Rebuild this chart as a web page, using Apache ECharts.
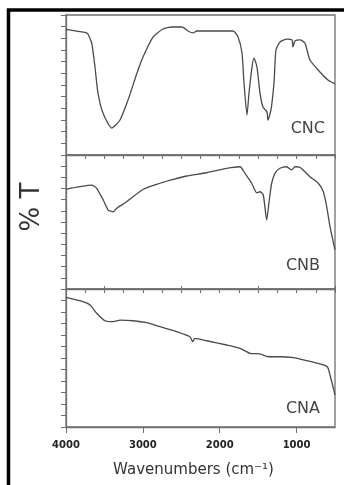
<!DOCTYPE html>
<html><head><meta charset="utf-8">
<script src="https://cdn.jsdelivr.net/npm/echarts@6/dist/echarts.min.js"></script>
<style>html,body{margin:0;padding:0;background:#fff}#c{width:344px;height:485px}</style>
</head><body><div id="c"></div>
<script>
// ---- data ----
const wnCNC = [4000,3818,3723,3666,3623,3584,3519,3405,3297,3193,3076,2998,2868,2738,2621,2491,2413,2348,2296,1827,1762,1710,1684,1645,1619,1580,1554,1515,1476,1437,1385,1372,1333,1294,1268,1216,1125,1060,1047,1021,956,891,826,696,592,500];
const tCNC  = [107.7,105.7,104.3,96,75.4,53.1,36,23.1,30,47.1,70.3,84,101.1,108,109.7,109.7,106.3,104.6,106.3,106.3,101.1,87.4,61.7,34.3,53.1,75.4,83.1,75.4,53.1,41.1,36.9,30,38.6,61.7,90,96.9,99.4,98.6,92.6,97.7,98.6,96,81.4,71.1,64.3,61];
const wnCNB = [4000,3818,3666,3601,3515,3450,3385,3340,3210,2994,2777,2604,2430,2170,1909,1736,1671,1584,1519,1476,1433,1389,1355,1324,1281,1216,1129,1064,1021,956,826,717,652,608,565,500];
const tCNB  = [89.3,91.6,93.1,90.2,79.7,70.7,69.2,72.3,78.2,89.3,94.7,98.2,101.2,104.1,108.1,109.5,103.6,94.7,86.2,87.1,84.2,61.8,79.7,94.7,103.6,108.1,109.5,106.6,109.5,109,100.6,94.7,87.1,73.7,55.8,35];
const wnCNA = [4000,3818,3688,3601,3493,3385,3297,3124,2950,2777,2560,2387,2352,2322,2170,1909,1736,1606,1476,1368,1216,1043,868,696,600,565,500];
const tCNA  = [112.8,109.8,106.1,98.9,92.4,91.6,93,92.4,90.7,87.2,82.9,78.5,74.2,77.1,75,71.3,68.4,64.1,63.5,61.1,61.1,60.3,57.7,54.8,52.4,45.2,28];
const panelNames = ['CNC','CNB','CNA'];
const majorTicks = [1000,2000,3000,4000];
const minorTicks = [500,1500,2500,3500];
const xTitle = 'Wavenumbers (cm\u207B\u00B9)';
const yTitle = '% T';

// ---- chart ----
const chart = echarts.init(document.getElementById('c'), null, {renderer:'canvas'});
const L = 66, R = 9;
const grids = [{top:15,height:140},{top:155,height:134},{top:289,height:138}];
const axisColor = '#707070';
const lineColor = '#4a4a4a';
const xs = [wnCNC, wnCNB, wnCNA], ys = [tCNC, tCNB, tCNA];

const gridOpts = grids.map(g => ({left:L, right:R, top:g.top, height:g.height, show:true, borderColor:axisColor, borderWidth:1.3, backgroundColor:'transparent'}));

const xAxes = [];
for (let i = 0; i < 2; i++) {
  xAxes.push({type:'value', gridIndex:i, min:500, max:4000, inverse:true, interval:250,
    axisLine:{show:true, lineStyle:{color:axisColor, width:1.3}},
    axisTick:{show:true, inside:false, length:4, lineStyle:{color:axisColor}},
    axisLabel:{show:false}, splitLine:{show:false}});
}
xAxes.push({type:'value', gridIndex:2, min:500, max:4000, inverse:true,
  axisLine:{show:true, lineStyle:{color:axisColor, width:1.3}},
  axisTick:{show:true, inside:false, length:6, customValues:majorTicks, lineStyle:{color:axisColor}},
  axisLabel:{show:true, customValues:majorTicks, formatter:v=>String(v), margin:13, color:'#222', fontFamily:'DejaVu Sans', fontWeight:'bold', fontSize:10, showMinLabel:true, showMaxLabel:true},
  splitLine:{show:false},
  name:xTitle, nameLocation:'middle', nameGap:36,
  nameTextStyle:{fontFamily:'DejaVu Sans', fontSize:15, color:'#333', padding:[0,14,0,0]}});
xAxes.push({type:'value', gridIndex:2, min:500, max:4000, inverse:true,
  axisLine:{show:false},
  axisTick:{show:true, inside:false, length:3, customValues:minorTicks, lineStyle:{color:axisColor}},
  axisLabel:{show:false}, splitLine:{show:false}});

const yAxes = grids.map((g,i) => ({type:'value', gridIndex:i, min:0, max:120, interval:10,
  axisLine:{show:true, lineStyle:{color:axisColor, width:1.3}},
  axisTick:{show:true, inside:false, length:5, lineStyle:{color:axisColor}},
  axisLabel:{show:false}, splitLine:{show:false}}));

const series = xs.map((x,i) => ({type:'line', xAxisIndex:i, yAxisIndex:i, showSymbol:false, symbol:'none', smooth:0.2,
  data:x.map((v,k)=>[v, ys[i][k]]), lineStyle:{color:lineColor, width:1.3}, silent:true}));

const labelPos = [{x:325,y:129},{x:320,y:266},{x:320,y:409}];
const graphic = [
  {type:'rect', shape:{x:8.5, y:10, width:400, height:520}, style:{fill:'none', stroke:'#000', lineWidth:3.5}, silent:true},
  {type:'text', x:32, y:207, rotation:Math.PI/2, style:{text:yTitle, font:'26px "DejaVu Sans"', fill:'#333', align:'center', verticalAlign:'middle'}}
].concat(panelNames.map((n,i)=>({type:'text', x:labelPos[i].x, y:labelPos[i].y,
  style:{text:n, font:'16px "DejaVu Sans"', fill:'#444', align:'right', verticalAlign:'middle'}})));

chart.setOption({animation:false, backgroundColor:'#fff', grid:gridOpts, xAxis:xAxes, yAxis:yAxes, series:series, graphic:graphic});
</script></body></html>
